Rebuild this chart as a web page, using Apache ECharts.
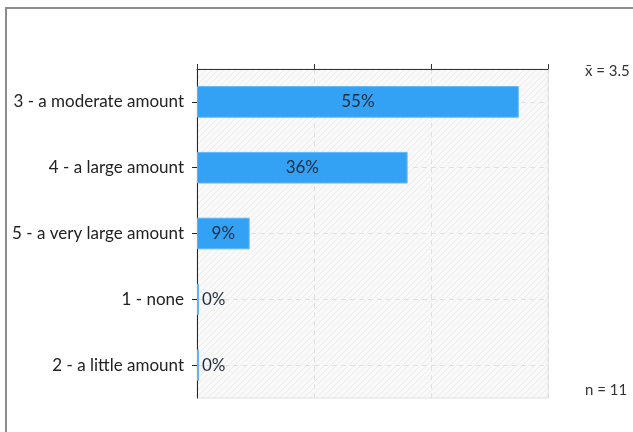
<!DOCTYPE html>
<html>
<head>
<meta charset="utf-8">
<script src="https://cdn.jsdelivr.net/npm/echarts@6/dist/echarts.min.js"></script>
<style>
html,body{margin:0;padding:0;background:#fff;}
#chart{width:633px;height:432px;}
</style>
</head>
<body>
<div id="chart"></div>
<script>
var categories = ['3 - a moderate amount', '4 - a large amount', '5 - a very large amount', '1 - none', '2 - a little amount'];
var values = [55, 36, 9, 0, 0];
var meanLabel = 'x\u0304 = 3.5';
var nLabel = 'n = 11';

var pc = document.createElement('canvas');
pc.width = 6; pc.height = 6;
var ctx = pc.getContext('2d');
ctx.fillStyle = '#f9f9f9';
ctx.fillRect(0, 0, 6, 6);
ctx.strokeStyle = '#ececec';
ctx.lineWidth = 1;
ctx.beginPath();
ctx.moveTo(-1, 7); ctx.lineTo(7, -1);
ctx.moveTo(-1, 1); ctx.lineTo(1, -1);
ctx.moveTo(5, 7); ctx.lineTo(7, 5);
ctx.stroke();

var FONT = 'Lato';
var chart = echarts.init(document.getElementById('chart'), null, {renderer: 'canvas'});
chart.setOption({
  animation: false,
  textStyle: {fontFamily: FONT},
  grid: {left: 197, top: 69, right: 85, bottom: 34, show: true,
    backgroundColor: {image: pc, repeat: 'repeat'}, borderColor: '#e2e2e2', borderWidth: 1},
  xAxis: {
    type: 'value', position: 'top', min: 0, max: 60, interval: 20,
    axisLine: {show: true, lineStyle: {color: '#333', width: 1}},
    axisTick: {show: true, length: 5, lineStyle: {color: '#333'}},
    axisLabel: {show: false},
    splitLine: {show: true, lineStyle: {color: '#e0e0e0', type: [5, 4]}}
  },
  yAxis: {
    type: 'category', inverse: true, data: categories,
    axisLine: {show: true, lineStyle: {color: '#222', width: 1}},
    axisTick: {show: true, alignWithLabel: true, length: 5, lineStyle: {color: '#222'}},
    axisLabel: {color: '#222', fontSize: 17, fontFamily: FONT, margin: 13},
    splitLine: {show: false}
  },
  series: [{
    type: 'bar',
    data: values.map(function (v) {
      return v === 0 ? {value: v, label: {position: 'right', distance: 3}} : {value: v};
    }),
    barWidth: '48%',
    barMinHeight: 2,
    itemStyle: {color: '#34a2f4', borderColor: '#5fb6f6', borderWidth: 1},
    label: {show: true, position: 'inside', formatter: '{c}%', color: '#1e2a38', fontSize: 17, fontFamily: FONT},
    markLine: {
      silent: true, symbol: 'none', label: {show: false}, z: 1,
      lineStyle: {color: '#e0e0e0', type: [5, 4], width: 1},
      data: categories.map(function (c) { return {yAxis: c}; })
    },
    z: 3
  }],
  graphic: [
    {type: 'polyline', shape: {points: [[6, 440], [6, 8], [640, 8]]}, style: {stroke: '#8c8c8c', lineWidth: 2, fill: null}},
    {type: 'text', left: 585, top: 64, style: {text: meanLabel, font: '15px ' + FONT, fill: '#333'}},
    {type: 'text', left: 585, top: 383, style: {text: nLabel, font: '15px ' + FONT, fill: '#333'}}
  ]
});
</script>
</body>
</html>
